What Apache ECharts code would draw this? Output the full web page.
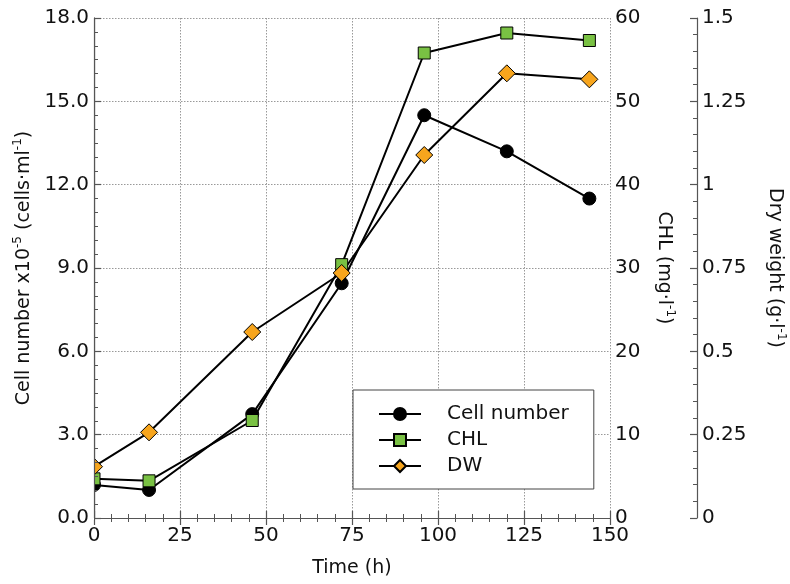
<!DOCTYPE html>
<html>
<head>
<meta charset="utf-8">
<script src="https://cdn.jsdelivr.net/npm/echarts@6/dist/echarts.min.js"></script>
<style>
  html, body { margin: 0; padding: 0; background: #fff; }
  #chart { width: 790px; height: 584px; }
</style>
</head>
<body>
<div id="chart"></div>
<script>
// Culture time course: cell number, chlorophyll and dry weight
const hours = [0, 16, 46, 72, 96, 120, 144];
const cellNumber = [1.19, 1.01, 3.74, 8.45, 14.5, 13.2, 11.5];   // x10^5 cells/ml
const chl = [4.7, 4.46, 11.7, 30.4, 55.8, 58.2, 57.3];            // mg/l
const dryWeight = [0.154, 0.257, 0.558, 0.735, 1.089, 1.334, 1.316]; // g/l

const FONT = 'DejaVu Sans';
const AXIS_COLOR = '#555';
const TEXT_COLOR = '#111';

const pairs = vals => hours.map((h, i) => [h, vals[i]]);

const tickCommon = {
  axisLine: { show: true, lineStyle: { color: AXIS_COLOR, width: 1.2 } },
  axisTick: { show: true, inside: true, length: 7, lineStyle: { color: AXIS_COLOR, width: 1.2 } },
  minorTick: { show: true, length: 4, lineStyle: { color: AXIS_COLOR, width: 1 } },
  axisLabel: { color: TEXT_COLOR, fontFamily: FONT, fontSize: 20, margin: 5 },
  splitLine: { show: false }
};

const nameRich = {
  a: { fontFamily: FONT, fontSize: 19, color: TEXT_COLOR, lineHeight: 24 },
  s: { fontFamily: FONT, fontSize: 12, color: TEXT_COLOR, verticalAlign: 'top', lineHeight: 24, padding: [0, 0, 8, 0] }
};

const chart = echarts.init(document.getElementById('chart'), null, { renderer: 'canvas' });

chart.setOption({
  animation: false,
  backgroundColor: '#fff',
  grid: { left: 94, right: 180, top: 18, bottom: 66, containLabel: false, outerBoundsMode: 'none' },
  xAxis: [
    Object.assign({}, tickCommon, {
      type: 'value', position: 'bottom', min: 0, max: 150, interval: 25,
      minorTick: Object.assign({}, tickCommon.minorTick, { splitNumber: 5 }),
      axisLabel: Object.assign({}, tickCommon.axisLabel, { margin: 8 }),
      splitLine: { show: true, lineStyle: { color: '#999', type: [1.5, 1.5], width: 1 } },
      name: 'Time (h)', nameLocation: 'middle', nameGap: 41,
      nameTextStyle: { fontFamily: FONT, fontSize: 19, color: TEXT_COLOR }
    }),
    Object.assign({}, tickCommon, {
      type: 'value', position: 'top', min: 0, max: 150, interval: 25,
      minorTick: Object.assign({}, tickCommon.minorTick, { splitNumber: 5 }),
      axisLabel: { show: false }
    })
  ],
  yAxis: [
    Object.assign({}, tickCommon, {
      type: 'value', position: 'left', min: 0, max: 18, interval: 3, z: 10,
      minorTick: Object.assign({}, tickCommon.minorTick, { splitNumber: 6 }),
      axisLabel: Object.assign({}, tickCommon.axisLabel, { formatter: v => v.toFixed(1) }),
      name: '{a|Cell number x10}{s|-5}{a| (cells·ml}{s|-1}{a|)}',
      nameLocation: 'middle', nameGap: 58, nameRotate: 90,
      nameTextStyle: { rich: nameRich }
    }),
    Object.assign({}, tickCommon, {
      type: 'value', position: 'right', min: 0, max: 60, interval: 10,
      minorTick: Object.assign({}, tickCommon.minorTick, { splitNumber: 2 }),
      splitLine: { show: true, lineStyle: { color: '#999', type: [1.5, 1.5], width: 1 } },
      name: '{a|CHL (mg·l}{s|-1}{a|)}',
      nameLocation: 'middle', nameGap: 42, nameRotate: -90,
      nameTextStyle: { rich: nameRich }
    }),
    Object.assign({}, tickCommon, {
      type: 'value', position: 'right', offset: 87, min: 0, max: 1.5, interval: 0.25,
      minorTick: Object.assign({}, tickCommon.minorTick, { splitNumber: 5 }),
      axisLabel: Object.assign({}, tickCommon.axisLabel, { formatter: v => String(v) }),
      name: '{a|Dry weight (g·l}{s|-1}{a|)}',
      nameLocation: 'middle', nameGap: 66, nameRotate: -90,
      nameTextStyle: { rich: nameRich }
    })
  ],
  legend: {
    orient: 'vertical', left: 353, top: 390,
    backgroundColor: '#fff', borderColor: '#444', borderWidth: 1, borderRadius: 0,
    padding: [14, 25, 13, 25],
    itemWidth: 42, itemHeight: 15, itemGap: 6,
    textStyle: { fontFamily: FONT, fontSize: 20, color: TEXT_COLOR, padding: [0, 0, 0, 21] },
    data: ['Cell number', 'CHL', 'DW']
  },
  // white margin strip so markers sitting on t = 0 are cut at the frame
  graphic: [{
    type: 'rect', z: 5, silent: true,
    shape: { x: 0, y: 0, width: 94, height: 520 },
    style: { fill: '#fff' }
  }],
  series: [
    {
      name: 'Cell number', type: 'line', xAxisIndex: 0, yAxisIndex: 0,
      data: pairs(cellNumber), symbol: 'circle', symbolSize: 13,
      lineStyle: { color: '#000', width: 2 },
      itemStyle: { color: '#000', borderColor: '#000', borderWidth: 1 }
    },
    {
      name: 'CHL', type: 'line', xAxisIndex: 0, yAxisIndex: 1,
      data: pairs(chl), symbol: 'rect', symbolSize: 12,
      lineStyle: { color: '#000', width: 2 },
      itemStyle: { color: '#79c143', borderColor: '#000', borderWidth: 1 }
    },
    {
      name: 'DW', type: 'line', xAxisIndex: 0, yAxisIndex: 2,
      data: pairs(dryWeight), symbol: 'diamond', symbolSize: 17,
      lineStyle: { color: '#000', width: 2 },
      itemStyle: { color: '#f7a51d', borderColor: '#000', borderWidth: 1 }
    }
  ]
});
</script>
</body>
</html>
